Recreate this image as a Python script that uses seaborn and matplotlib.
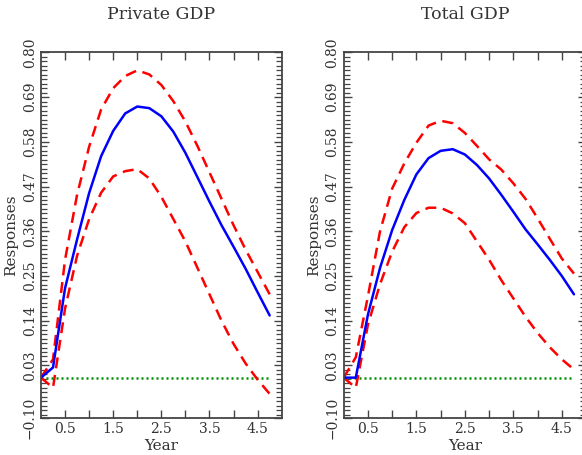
import numpy as np
import pandas as pd
import matplotlib
matplotlib.use("Agg")
import matplotlib.pyplot as plt
import seaborn as sns
from matplotlib.ticker import FixedLocator, FixedFormatter

# quarterly horizon, in years
years = [0.0, 0.25, 0.5, 0.75, 1.0, 1.25, 1.5, 1.75, 2.0, 2.25,
         2.5, 2.75, 3.0, 3.25, 3.5, 3.75, 4.0, 4.25, 4.5, 4.75]

private_irf = [0.0, 0.025, 0.22, 0.34, 0.454, 0.545, 0.607, 0.650, 0.667, 0.663,
               0.643, 0.605, 0.553, 0.493, 0.433, 0.375, 0.322, 0.268, 0.210, 0.153]
private_upper = [0.0, 0.045, 0.29, 0.45, 0.568, 0.660, 0.712, 0.742, 0.756, 0.746,
                 0.720, 0.680, 0.630, 0.570, 0.505, 0.440, 0.375, 0.315, 0.260, 0.205]
private_lower = [0.0, -0.025, 0.17, 0.30, 0.390, 0.455, 0.495, 0.508, 0.513, 0.490,
                 0.445, 0.390, 0.335, 0.270, 0.205, 0.140, 0.083, 0.035, -0.005, -0.040]

total_irf = [0.0, 0.0, 0.155, 0.27, 0.363, 0.437, 0.500, 0.540, 0.558, 0.562,
             0.549, 0.523, 0.490, 0.450, 0.408, 0.365, 0.328, 0.290, 0.250, 0.205]
total_upper = [0.0, 0.05, 0.20, 0.36, 0.465, 0.527, 0.578, 0.620, 0.632, 0.626,
               0.602, 0.570, 0.537, 0.512, 0.478, 0.440, 0.392, 0.342, 0.293, 0.256]
total_lower = [0.0, -0.025, 0.13, 0.23, 0.310, 0.370, 0.405, 0.418, 0.418, 0.404,
               0.380, 0.335, 0.290, 0.240, 0.195, 0.150, 0.110, 0.075, 0.045, 0.020]

zero_line = [0.0] * len(years)

panel_titles = ["Private GDP", "Total GDP"]
y_ticks = [-0.10, 0.03, 0.14, 0.25, 0.36, 0.47, 0.58, 0.69, 0.80]
y_tick_labels = ["\u22120.10", "0.03", "0.14", "0.25", "0.36", "0.47", "0.58", "0.69", "0.80"]
x_ticks = [0.5, 1.0, 1.5, 2.0, 2.5, 3.0, 3.5, 4.0, 4.5]
x_tick_labels = ["0.5", "", "1.5", "", "2.5", "", "3.5", "", "4.5"]

sns.set_style("white")
plt.rcParams["font.family"] = ["DejaVu Serif"]
plt.rcParams["ytick.minor.size"] = 4
plt.rcParams["ytick.minor.width"] = 0.9
plt.rcParams["ytick.minor.visible"] = True
text_color = "#333333"

panels = [
    (panel_titles[0], private_irf, private_upper, private_lower),
    (panel_titles[1], total_irf, total_upper, total_lower),
]

fig = plt.figure(figsize=(5.82, 4.55), dpi=100)
rects = [[0.0704, 0.0807, 0.4136, 0.804], [0.5905, 0.0807, 0.4165, 0.804]]

for rect, (title, irf, upper, lower) in zip(rects, panels):
    ax = fig.add_axes(rect)
    df = pd.DataFrame({"Year": years, "irf": irf, "upper": upper,
                       "lower": lower, "zero": zero_line})

    sns.lineplot(data=df, x="Year", y="zero", ax=ax, color="#008f00",
                 linewidth=1.8, linestyle=(0, (0.8, 1.2)))
    sns.lineplot(data=df, x="Year", y="upper", ax=ax, color="#ff0000",
                 linewidth=1.8, linestyle=(0, (4.4, 2.7)))
    sns.lineplot(data=df, x="Year", y="lower", ax=ax, color="#ff0000",
                 linewidth=1.8, linestyle=(0, (4.4, 2.7)))
    sns.lineplot(data=df, x="Year", y="irf", ax=ax, color="#0000ff",
                 linewidth=1.8)

    ax.set_xlim(0, 5)
    ax.set_ylim(-0.10, 0.80)

    ax.yaxis.set_major_locator(FixedLocator(y_ticks))
    ax.yaxis.set_major_formatter(FixedFormatter(y_tick_labels))
    ax.yaxis.set_minor_locator(FixedLocator([0.80 - 0.011 * k for k in range(82)]))
    ax.xaxis.set_major_locator(FixedLocator(x_ticks))
    ax.xaxis.set_major_formatter(FixedFormatter(x_tick_labels))

    ax.tick_params(axis="both", which="major", direction="in", length=6,
                   width=1.0, color="#444444", top=True, right=True,
                   bottom=True, left=True,
                   labelsize=10, labelcolor=text_color, pad=3)
    ax.tick_params(axis="y", which="minor", direction="in", length=4,
                   width=0.9, color="#444444", left=True, right=True)
    for lab in ax.get_yticklabels():
        lab.set_rotation(90)
        lab.set_va("center")

    for sp in ax.spines.values():
        sp.set_color("#444444")
        sp.set_linewidth(1.3)

    ax.set_xlabel("Year", fontsize=11, color=text_color, labelpad=2)
    ax.set_ylabel("Responses", fontsize=11, color=text_color, labelpad=3)
    ax.set_title(title, fontsize=12.5, color=text_color, pad=24)
    ax.grid(False)

fig.savefig("out.png", dpi=100)
